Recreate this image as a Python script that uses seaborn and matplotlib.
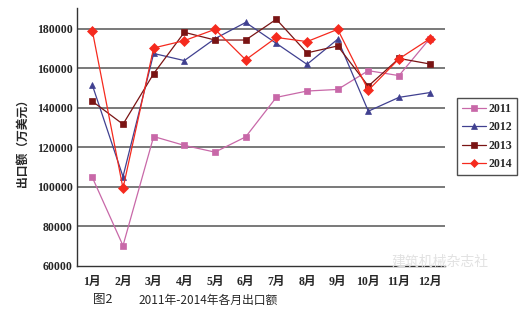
import matplotlib
matplotlib.use("Agg")
import matplotlib.pyplot as plt
import seaborn as sns
import pandas as pd
import numpy as np

months = ["1月", "2月", "3月", "4月", "5月", "6月", "7月", "8月", "9月", "10月", "11月", "12月"]
years = ["2011", "2012", "2013", "2014"]
exports_2011 = [104800, 70300, 125500, 121000, 117600, 125300, 145300, 148500, 149300, 158800, 156300, 175000]
exports_2012 = [151500, 105200, 167500, 163900, 175000, 183200, 172600, 162000, 174700, 138300, 145300, 147700]
exports_2013 = [143300, 131700, 157300, 178200, 174300, 174300, 184800, 167800, 171300, 151000, 165000, 162200]
exports_2014 = [179000, 99300, 170300, 174000, 179700, 164300, 175600, 173500, 179700, 148900, 164800, 174900]
y_ticks = [60000, 80000, 100000, 120000, 140000, 160000, 180000]

series = {"2011": exports_2011, "2012": exports_2012, "2013": exports_2013, "2014": exports_2014}
rows = []
for yr in years:
    for i, v in enumerate(series[yr]):
        rows.append({"month": i, "value": v, "year": yr})
df = pd.DataFrame(rows)

palette = {"2011": "#C868A8", "2012": "#404090", "2013": "#7A1414", "2014": "#F52A1E"}
markers = {"2011": "s", "2012": "^", "2013": "s", "2014": "D"}

sns.set_style("white")
plt.rcParams["font.family"] = ["Liberation Serif", "Noto Sans CJK SC"]

fig = plt.figure(figsize=(5.26, 3.25), dpi=100)
ax = fig.add_axes([77 / 526, 1 - 266 / 325, 368 / 526, 258 / 325])

ax.set_ylim(60000, 190500)
ax.set_xlim(-0.5, 11.5)
ax.set_yticks(y_ticks)
for t in y_ticks[1:]:
    ax.axhline(t, color="#555555", lw=1.1, zorder=0)

sns.lineplot(data=df, x="month", y="value", hue="year", style="year",
             palette=palette, markers=markers, dashes=False, sort=False,
             linewidth=0.9, markersize=4.8, markeredgewidth=0.5, ax=ax)

for line in ax.get_lines():
    line.set_markeredgecolor(line.get_color())

ax.set_xticks(range(12))
ax.set_xticklabels(months, fontweight="bold", fontsize=8.5,
                   family=["Liberation Serif", "Noto Sans CJK SC"])
ax.set_xticks(np.arange(0.5, 11.5, 1), minor=True)
ax.tick_params(axis="x", which="major", length=0, pad=7)
ax.tick_params(axis="x", which="minor", length=3, direction="in", color="#444444")
ax.tick_params(axis="y", length=0, pad=3)
for lbl in ax.get_yticklabels():
    lbl.set_fontweight("bold")
    lbl.set_fontsize(8.5)

for s in ["top", "right"]:
    ax.spines[s].set_visible(False)
for s in ["left", "bottom"]:
    ax.spines[s].set_color("#333333")
    ax.spines[s].set_linewidth(1.0)

ax.set_xlabel("")
ax.set_ylabel("")
fig.text(22 / 526, 1 - 140 / 325, "出口额（万美元）", rotation=90, ha="center", va="center",
         fontsize=8.5, fontweight="bold", family=["Noto Sans CJK SC"])

handles, labels = ax.get_legend_handles_labels()
for h in handles:
    h.set_markersize(4)
    h.set_linewidth(0.9)
ax.legend_.remove()
leg = fig.legend(handles, labels, loc="upper left",
                 bbox_to_anchor=(457 / 526, 1 - 98 / 325), frameon=True,
                 fancybox=False, edgecolor="#222222", handlelength=2.0,
                 handletextpad=0.2, labelspacing=0.55, borderpad=0.4,
                 borderaxespad=0, prop={"weight": "bold", "size": 8.6, "family": "Liberation Serif"})
leg.get_frame().set_linewidth(1.0)

fig.text(93 / 526, 1 - 300 / 325, "图2", ha="left", va="center", fontsize=9,
         family=["Noto Sans CJK SC"])
fig.text(138 / 526, 1 - 300 / 325, "2011年-2014年各月出口额", ha="left", va="center",
         fontsize=8.5, family=["Noto Sans CJK SC"])
fig.text(440 / 526, 1 - 262 / 325, "建筑机械杂志社", ha="center", va="center",
         fontsize=10, color="#e2e2e2", family=["Noto Sans CJK SC"], zorder=5)

fig.savefig("out.png", dpi=100)
